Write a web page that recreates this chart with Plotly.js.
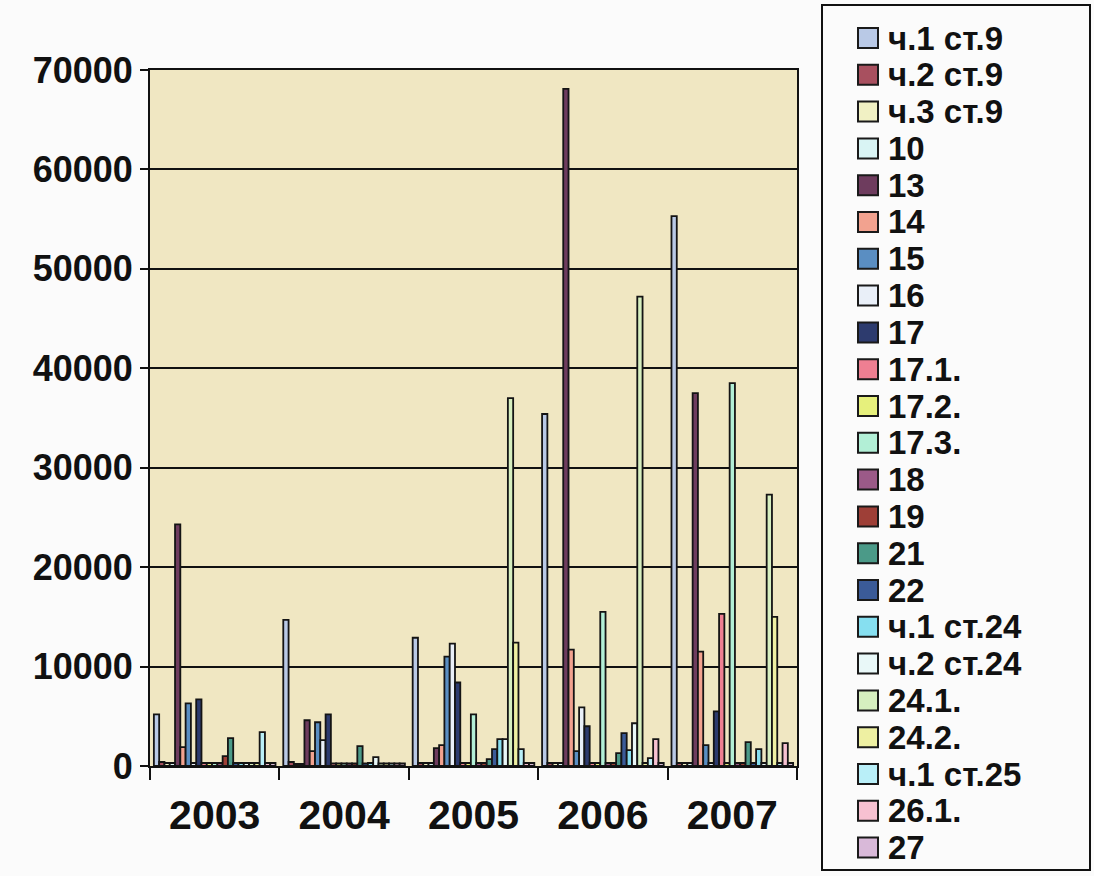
<!DOCTYPE html>
<html>
<head>
<meta charset="utf-8">
<script src="https://cdn.plot.ly/plotly-3.0.1.min.js"></script>
<style>html,body{margin:0;padding:0;background:#fbfbfb;}#chart{width:1094px;height:876px;}</style>
</head>
<body>
<div id="chart"></div>
<script>
const years = ['2003', '2004', '2005', '2006', '2007'];
const seriesNames = ['ч.1 ст.9', 'ч.2 ст.9', 'ч.3 ст.9', '10', '13', '14', '15', '16', '17', '17.1.', '17.2.', '17.3.',
  '18', '19', '21', '22', 'ч.1 ст.24', 'ч.2 ст.24', '24.1.', '24.2.', 'ч.1 ст.25', '26.1.', '27'];
const seriesColors = ['#b9c9e6', '#a8505f', '#f1f1c4', '#d9f4f4', '#6e3c5e', '#f2a28f', '#5a8ec2', '#e9eff8',
  '#2d3b6e', '#ef7f92', '#e6f07c', '#b2efd6', '#9b5a88', '#9e3f37', '#4b9a88', '#3b5b98', '#86dff0',
  '#e9f8f8', '#d6efbf', '#eef0a2', '#b9eff8', '#f7c1d1', '#d9b9d9'];

// values per year, one entry per series (same order as seriesNames)
const v2003 = [5200, 400, 300, 300, 24300, 1900, 6300, 300, 6700, 300, 300, 300, 300, 1000, 2800, 300, 300, 300, 300, 300, 3400, 300, 300];
const v2004 = [14700, 400, 200, 200, 4600, 1500, 4400, 2600, 5200, 250, 250, 250, 250, 250, 2000, 250, 300, 900, 250, 250, 250, 250, 250];
const v2005 = [12900, 300, 300, 300, 1800, 2100, 11000, 12300, 8400, 300, 300, 5200, 300, 300, 700, 1700, 2700, 2700, 37000, 12400, 1700, 300, 300];
const v2006 = [35400, 300, 300, 300, 68100, 11700, 1500, 5900, 4000, 300, 300, 15500, 300, 300, 1300, 3300, 1600, 4300, 47200, 300, 800, 2700, 300];
const v2007 = [55300, 300, 300, 300, 37500, 11500, 2100, 300, 5500, 15300, 300, 38500, 300, 300, 2400, 300, 1700, 300, 27300, 15000, 300, 2300, 300];
const yearValues = [v2003, v2004, v2005, v2006, v2007];

const W = 1094, H = 876;
const M = {l: 150, r: 297, t: 70, b: 110};
const PW = W - M.l - M.r, PH = H - M.t - M.b;
const px2x = px => (px - M.l) / PW;
const py2y = py => (H - M.b - py) / PH;

const FONT = 'Arial, "Liberation Sans", sans-serif';

const traces = seriesNames.map((name, i) => ({
  type: 'bar',
  name: name,
  x: years,
  y: yearValues.map(v => v[i]),
  marker: {color: seriesColors[i], line: {color: '#141414', width: 1.8}},
  showlegend: false,
  hoverinfo: 'x+y+name'
}));

// manual legend (box, swatches, labels)
const shapes = [{
  type: 'rect', xref: 'paper', yref: 'paper',
  x0: px2x(822), x1: px2x(1090), y0: py2y(870), y1: py2y(5),
  line: {color: '#111', width: 2}, fillcolor: 'rgba(255,255,255,0)'
}];
const annotations = [];
seriesNames.forEach((name, i) => {
  const cy = 38 + i * 36.8;
  shapes.push({
    type: 'rect', xref: 'paper', yref: 'paper',
    x0: px2x(858), x1: px2x(878), y0: py2y(cy + 10), y1: py2y(cy - 10),
    fillcolor: seriesColors[i], line: {color: '#1a1a1a', width: 2}
  });
  annotations.push({
    xref: 'paper', yref: 'paper', x: px2x(886), y: py2y(cy),
    xanchor: 'left', yanchor: 'middle', showarrow: false,
    text: '<b>' + name + '</b>',
    font: {family: FONT, size: 33, color: '#111'}
  });
});

const layout = {
  width: W, height: H,
  margin: M,
  paper_bgcolor: '#fbfbfb',
  plot_bgcolor: '#f0e7c2',
  barmode: 'group',
  bargap: 0.06,
  bargroupgap: 0,
  showlegend: false,
  xaxis: {
    type: 'category',
    tickson: 'boundaries',
    ticks: 'outside', ticklen: 12, tickwidth: 2, tickcolor: '#111',
    ticklabelstandoff: 12,
    showline: true, linecolor: '#111', linewidth: 2, mirror: true,
    tickfont: {family: FONT, size: 41, color: '#111', weight: 'bold'},
    showgrid: false, zeroline: false
  },
  yaxis: {
    range: [0, 70000],
    tickmode: 'array',
    tickvals: [0, 10000, 20000, 30000, 40000, 50000, 60000, 70000],
    ticktext: ['0', '10000', '20000', '30000', '40000', '50000', '60000', '70000'],
    ticks: 'outside', ticklen: 8, tickwidth: 2, tickcolor: '#111',
    showline: true, linecolor: '#111', linewidth: 2, mirror: true,
    showgrid: true, gridcolor: '#111', gridwidth: 2,
    zeroline: false,
    tickfont: {family: FONT, size: 36, color: '#111', weight: 'bold'}
  },
  shapes: shapes,
  annotations: annotations
};

Plotly.newPlot('chart', traces, layout, {displayModeBar: false, staticPlot: true});
</script>
</body>
</html>
